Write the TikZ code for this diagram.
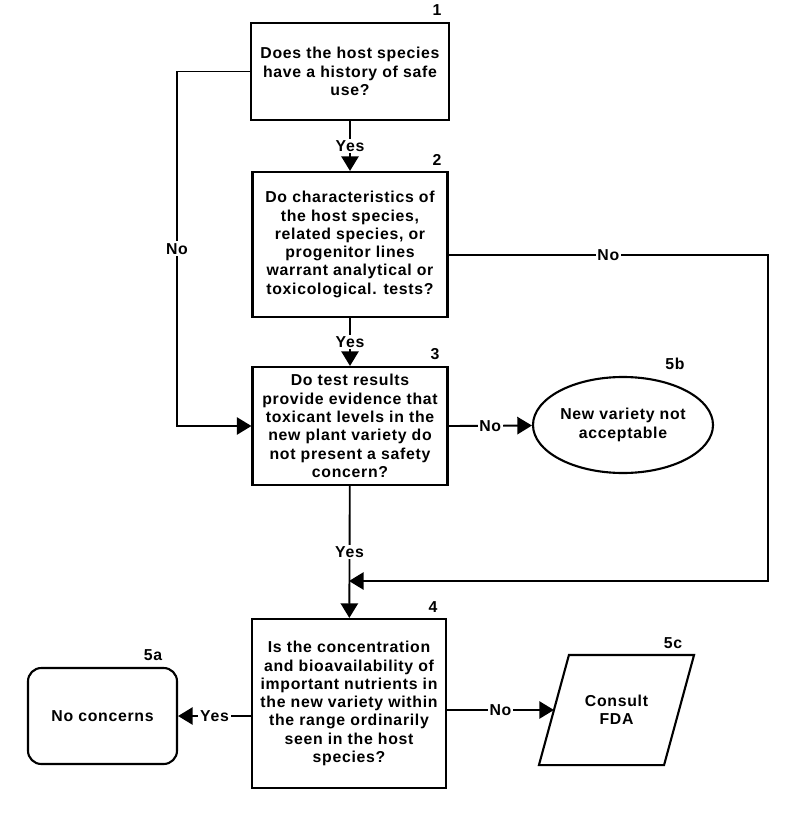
\documentclass[tikz,border=0pt]{standalone}
\usepackage{fontspec}
\setmainfont{Liberation Sans}[LetterSpace=4.5]
\usetikzlibrary{arrows.meta,shapes.geometric}

\begin{document}
\begin{tikzpicture}[x=0.03cm, y=-0.03cm,
    caja/.style={draw, line width=1.8pt, align=center, inner sep=2pt,
      font=\bfseries\fontsize{13.5}{15.6}\selectfont},
    flecha/.style={line width=1.6pt, -{Triangle[length=4.4mm, width=5.2mm]}},
    etiq/.style={fill=white, inner sep=1.5pt, font=\bfseries\fontsize{13.5}{15.6}\selectfont},
    num/.style={font=\bfseries\fontsize{13.5}{15.6}\selectfont}]
    \useasboundingbox (0, 0) rectangle (800, 825);

    % Preguntas
    \node[caja, minimum width=5.94cm, minimum height=2.91cm] (p1) at (350, 71.5)
      {Does the host species\\have a history of safe\\use?};
    \node[caja, minimum width=5.85cm, minimum height=4.35cm] (p2) at (350, 244.5)
      {Do characteristics of\\the host species,\\related species, or\\progenitor lines\\warrant analytical or\\toxicological. tests?};
    \node[caja, minimum width=5.85cm, minimum height=3.54cm] (p3) at (350, 426)
      {Do test results\\provide evidence that\\toxicant levels in the\\new plant variety do\\not present a safety\\concern?};
    \node[caja, minimum width=5.82cm, minimum height=5.07cm] (p4) at (349, 703.5)
      {Is the concentration\\and bioavailability of\\important nutrients in\\the new variety within\\the range ordinarily\\seen in the host\\species?};

    % Resultados
    \node[caja, rounded corners=0.4cm, minimum width=4.47cm, minimum height=2.88cm] (nc) at (102.5, 716)
      {No concerns};
    \node[caja, ellipse, inner sep=0pt, minimum width=5.4cm, minimum height=2.88cm] (nv) at (623, 425)
      {New variety not\\acceptable};
    \node[caja, draw=none, minimum width=4.59cm, minimum height=3.24cm] (fda) at (616.5, 710)
      {Consult\\FDA};
    \draw[line width=1.8pt, line join=miter] (fda.south west) -- ([xshift=0.9cm]fda.north west)
      -- (fda.north east) -- ([xshift=-0.9cm]fda.south east) -- cycle;
    \coordinate (fdaiz) at ([xshift=0.45cm]fda.west);

    % Numeros
    \node[num] (e1) at (437, 10) {1};
    \node[num] (e2) at (437, 160) {2};
    \node[num] (e3) at (435, 354) {3};
    \node[num] (e4) at (433, 607) {4};
    \node[num] (e5a) at (153, 655) {5a};
    \node[num] (e5b) at (675, 364) {5b};
    \node[num] (e5c) at (673, 643) {5c};

    % Conectores
    \coordinate (izq) at (177, 71.5);
    \coordinate (der) at (768, 255);
    \coordinate (union) at (349, 581);
    \draw[flecha] (p1) -- node[etiq] {Yes} (p2);
    \draw[flecha] (p2) -- node[etiq] {Yes} (p3);
    \draw[flecha] (p3) -- node[etiq] {Yes} (p4);
    \draw[flecha] (p1.west) -- (izq) |- node[etiq, pos=0.25] {No} (p3.west);
    \draw[flecha] (p2.east |- der) -- node[etiq] {No} (der) |- (union);
    \draw[flecha] (p3.east) -- node[etiq] {No} (nv);
    \draw[flecha] (p4.west |- nc) -- node[etiq] {Yes} (nc);
    \draw[flecha] (p4.east |- fdaiz) -- node[etiq] {No} (fdaiz);
  \end{tikzpicture}
\end{document}
